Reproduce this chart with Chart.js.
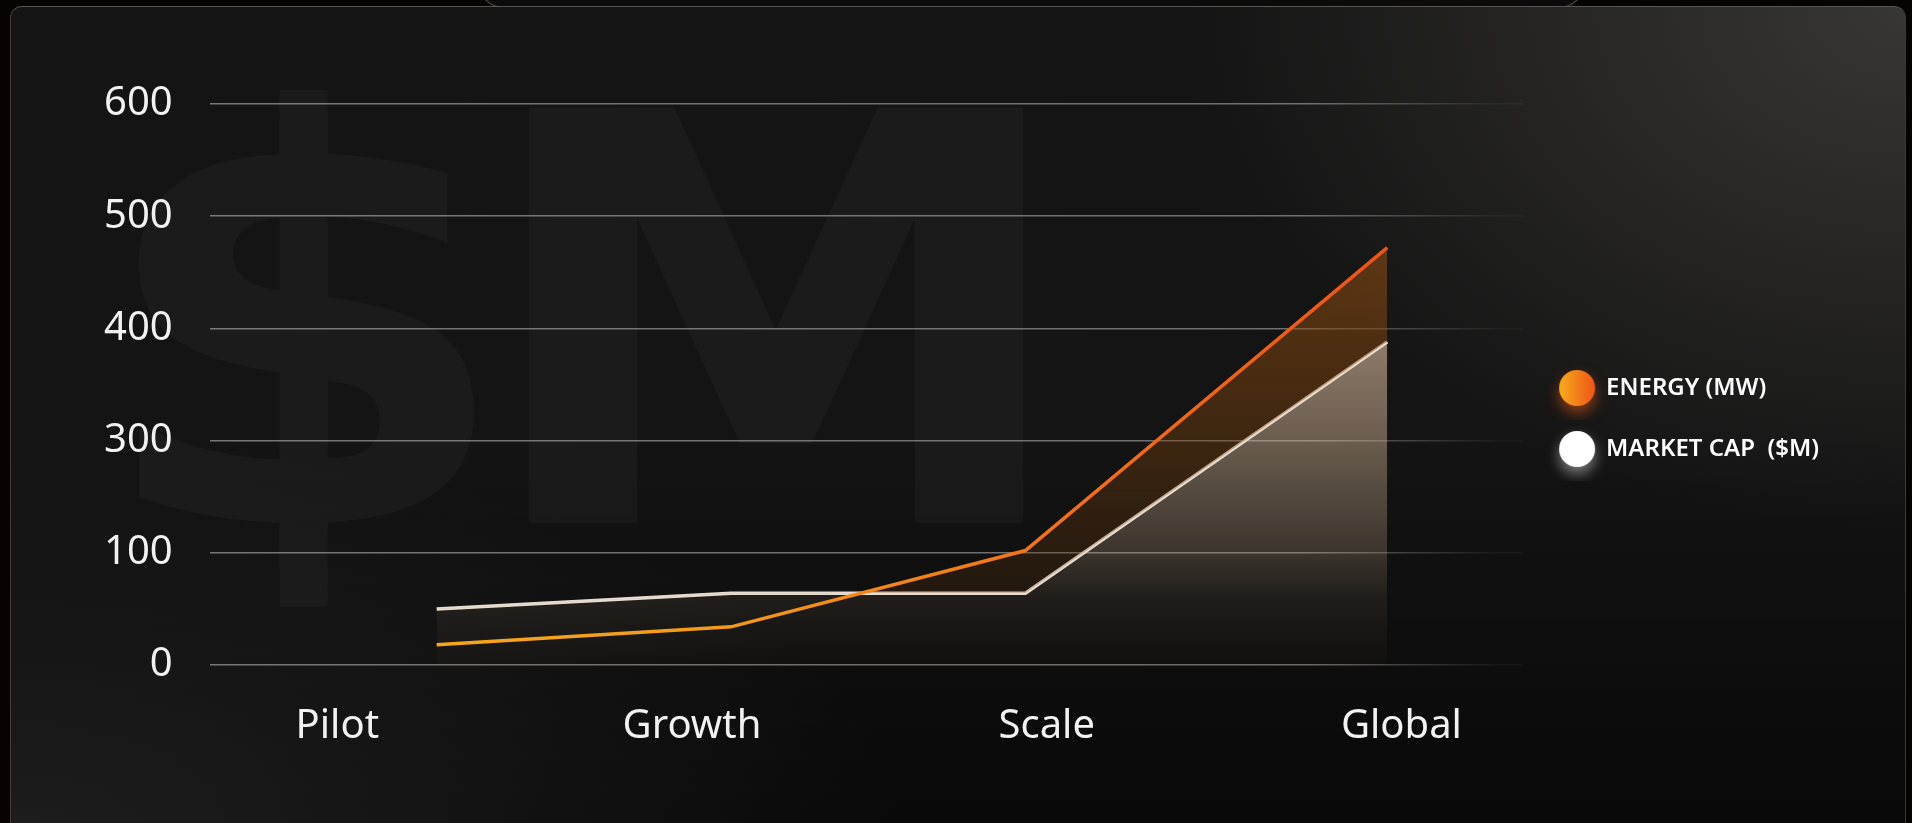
<!DOCTYPE html>
<html>
<head>
<meta charset="utf-8">
<title>Energy vs Market Cap</title>
<script src="https://cdn.jsdelivr.net/npm/chart.js@4.4.1/dist/chart.umd.min.js"></script>
<style>
  html, body { margin: 0; padding: 0; background: #060302; overflow: hidden; }
  #stage { position: relative; width: 1912px; height: 823px; }
  #tab {
    position: absolute; left: 478px; top: -30px; width: 1105px; height: 36px;
    border: 1px solid rgba(200,200,200,0.35); border-radius: 0 0 26px 26px;
    background: #0b0b0b;
  }
  #card {
    position: absolute; left: 10px; top: 6px; width: 1894px; height: 840px;
    border: 1.5px solid; border-color: #5a5654 #3c3836 #2a2a2a #4d3a2c;
    border-radius: 12px 12px 0 0; overflow: hidden;
    background:
      radial-gradient(ellipse 720px 520px at 100% 0%, rgba(60,58,56,0.9), rgba(40,40,40,0) 100%),
      radial-gradient(ellipse 900px 420px at 0% 100%, rgba(32,32,32,0.9), rgba(30,30,30,0) 100%),
      linear-gradient(to bottom, rgba(0,0,0,0) 50%, rgba(0,0,0,0.6) 100%),
      #141414;
  }
  #mark {
    position: absolute; left: 80px; top: 34px;
    font: bold 570px 'DejaVu Sans'; line-height: 1; letter-spacing: -40px;
    transform: scaleX(1.07); transform-origin: 0 0;
    color: rgba(255,255,255,0.032); white-space: nowrap;
  }
  #chart { position: absolute; left: 0; top: 0; }
</style>
</head>
<body>
<div id="stage">
  <div id="tab"></div>
  <div id="card"><div id="mark">$M</div></div>
  <canvas id="chart" width="1912" height="823"></canvas>
</div>
<script>
// stages along the bottom and where each stage's value sits on the x scale
const stages = ['Pilot', 'Growth', 'Scale', 'Global'];
const stageX = [0.28, 1.11, 1.94, 2.96];

// values in axis units (the axis labels skip 200, so each gridline is one step)
const energyMW = [18, 34, 102, 372];
const marketCapM = [50, 64, 64, 288];

const yTickLabels = ['0', '100', '300', '400', '500', '600'];
const seriesNames = ['ENERGY (MW)', 'MARKET CAP  ($M)'];

function points(values) {
  return values.map((v, i) => ({ x: stageX[i], y: v }));
}

function makeDot(paint, glow) {
  const c = document.createElement('canvas');
  c.width = 64; c.height = 64;
  const g = c.getContext('2d');
  g.shadowColor = glow;
  g.shadowBlur = 14;
  g.shadowOffsetY = 7;
  g.fillStyle = paint(g);
  g.beginPath();
  g.arc(32, 32, 18, 0, Math.PI * 2);
  g.fill();
  return c;
}

const legendDots = [
  makeDot(g => {
    const lg = g.createLinearGradient(14, 0, 50, 0);
    lg.addColorStop(0, '#f9ab1d');
    lg.addColorStop(1, '#ee5417');
    return lg;
  }, 'rgba(240,90,20,0.55)'),
  makeDot(() => '#ffffff', 'rgba(255,255,255,0.45)')
];

function energyLine(ctx) {
  const { chart } = ctx;
  if (!chart.chartArea) return '#f08020';
  const xs = chart.scales.x;
  const g = chart.ctx.createLinearGradient(xs.getPixelForValue(stageX[0]), 0, xs.getPixelForValue(stageX[3]), 0);
  g.addColorStop(0, '#f5a81c');
  g.addColorStop(0.3, '#f39a1a');
  g.addColorStop(0.65, '#f0711c');
  g.addColorStop(1, '#ee5318');
  return g;
}

function energyFill(ctx) {
  const { chart } = ctx;
  const area = chart.chartArea;
  if (!area) return 'rgba(150,80,15,0.4)';
  const g = chart.ctx.createLinearGradient(0, area.top, 0, area.bottom);
  g.addColorStop(0, 'rgba(168,90,20,0.66)');
  g.addColorStop(0.5, 'rgba(135,72,15,0.45)');
  g.addColorStop(1, 'rgba(90,50,10,0.15)');
  return g;
}

function capFill(ctx) {
  const { chart } = ctx;
  const area = chart.chartArea;
  if (!area) return 'rgba(215,185,155,0.4)';
  const g = chart.ctx.createLinearGradient(0, area.top, 0, area.bottom);
  g.addColorStop(0, 'rgba(218,188,158,0.72)');
  g.addColorStop(0.42, 'rgba(218,188,158,0.62)');
  g.addColorStop(0.6, 'rgba(210,180,150,0.46)');
  g.addColorStop(0.8, 'rgba(200,170,140,0.24)');
  g.addColorStop(0.88, 'rgba(190,160,130,0.1)');
  g.addColorStop(1, 'rgba(180,150,120,0.02)');
  return g;
}

function gridColor(ctx) {
  const { chart } = ctx;
  const area = chart.chartArea;
  if (!area) return 'rgba(255,255,255,0.45)';
  const g = chart.ctx.createLinearGradient(area.left, 0, area.right - 26, 0);
  g.addColorStop(0, 'rgba(200,200,200,0.55)');
  g.addColorStop(0.85, 'rgba(200,200,200,0.5)');
  g.addColorStop(1, 'rgba(200,200,200,0.05)');
  return g;
}

const chart = new Chart(document.getElementById('chart'), {
  type: 'line',
  data: {
    datasets: [{
      label: seriesNames[0],
      data: points(energyMW),
      borderColor: energyLine,
      backgroundColor: energyFill,
      borderWidth: 3.5,
      fill: { target: 1, below: 'rgba(0,0,0,0)' },
      pointRadius: 0,
      tension: 0
    }, {
      label: seriesNames[1],
      data: points(marketCapM),
      borderColor: '#e8ddd1',
      backgroundColor: capFill,
      borderWidth: 3.5,
      fill: 'origin',
      pointRadius: 0,
      tension: 0
    }]
  },
  options: {
    responsive: false,
    animation: false,
    layout: { padding: { left: 67, right: 83, top: 104, bottom: 72 } },
    scales: {
      x: {
        type: 'linear',
        min: -0.36,
        max: 3.343,
        grid: { display: false, drawTicks: true, tickLength: 38 },
        border: { display: false },
        ticks: {
          stepSize: 1,
          includeBounds: false,
          autoSkip: false,
          maxRotation: 0,
          padding: 0,
          color: '#f2f2f2',
          font: { family: 'Noto Sans', size: 40 },
          callback: v => stages[v]
        }
      },
      y: {
        min: 0,
        max: 500,
        grid: { color: gridColor, lineWidth: 1.5, drawTicks: false },
        border: { display: false },
        ticks: {
          stepSize: 100,
          padding: 37,
          color: '#f2f2f2',
          font: { family: 'Noto Sans', size: 40 },
          callback: v => yTickLabels[v / 100]
        }
      }
    },
    plugins: {
      tooltip: { enabled: false },
      legend: {
        position: 'right',
        align: 'center',
        fullSize: false,
        // empty title only pushes the two entries down next to the lines
        title: { display: true, text: ' ', padding: 0, font: { size: 10, lineHeight: '68px' } },
        labels: {
          usePointStyle: true,
          pointStyleWidth: 34,
          padding: 37,
          color: '#ffffff',
          font: { family: 'Noto Sans', size: 24, weight: '600' },
          generateLabels(chart) {
            const items = Chart.defaults.plugins.legend.labels.generateLabels(chart);
            items.forEach((it, i) => { it.pointStyle = legendDots[i]; });
            return items;
          }
        }
      }
    }
  }
});
</script>
</body>
</html>
